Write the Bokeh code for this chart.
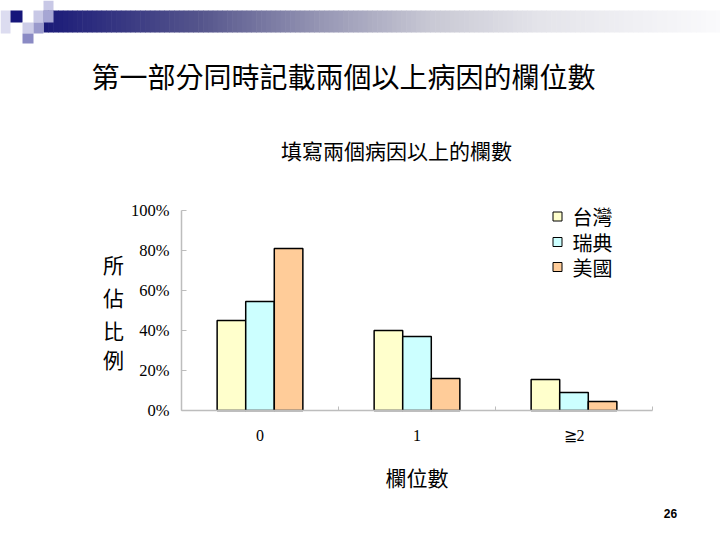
from bokeh.plotting import figure
from bokeh.models import Range1d, FixedTicker, PrintfTickFormatter, Label
from bokeh.embed import file_html
from bokeh.resources import INLINE

# ---------------- data ----------------
slide_title = "第一部分同時記載兩個以上病因的欄位數"
chart_title = "填寫兩個病因以上的欄數"
x_axis_title = "欄位數"
y_axis_title = "所佔比例"
page_number = "26"

categories = ["0", "1", "≧2"]
countries = ["台灣", "瑞典", "美國"]
taiwan = [45, 40, 15.5]
sweden = [54.5, 37, 9]
usa = [81, 16, 4.5]
y_ticks = [0, 20, 40, 60, 80, 100]

# ---------------- styles ----------------
bar_colors = ["#FFFFCC", "#CCFFFF", "#FFCC99"]
serif = "Liberation Serif"
cjk = "Noto Sans CJK TC"
axis_gray = "#bdbdbd"

W, H = 720, 540
# plot area of the chart in page pixels: x 181..652 (3 categories), y 410 (0%) .. 210 (100%)
def dx(px):
    return (px - 181) / 157 - 0.5

def dy(py):
    return (410 - py) / 2

p = figure(width=W, height=H, x_range=Range1d(dx(0), dx(W)), y_range=Range1d(dy(H), dy(0)),
           output_backend="svg", toolbar_location=None, min_border=0)
p.grid.visible = False
p.outline_line_color = None

# ---------------- header decoration (slide template) ----------------
stops_x = [43, 200, 320, 430, 540, 720]
stops_c = [(26, 26, 120), (85, 85, 140), (150, 150, 180), (200, 200, 212), (228, 228, 234), (250, 250, 252)]
n = 140
gl, gr, gc = [], [], []
for i in range(n):
    a = 43 + (720 - 43) * i / n
    b = 43 + (720 - 43) * (i + 1) / n + 0.6
    m = (a + b) / 2
    for s in range(len(stops_x) - 1):
        if stops_x[s] <= m <= stops_x[s + 1]:
            t = (m - stops_x[s]) / (stops_x[s + 1] - stops_x[s])
            c = tuple(int(round(stops_c[s][k] + (stops_c[s + 1][k] - stops_c[s][k]) * t)) for k in range(3))
            break
    gl.append(dx(a)); gr.append(dx(b)); gc.append("#%02x%02x%02x" % c)
p.quad(left=gl, right=gr, top=[dy(10)] * n, bottom=[dy(32)] * n, fill_color=gc, line_color=None)

sq_l = [0, 10, 33, 43, 43, 22, 33, 22]
sq_r = [10, 22, 43, 53, 53, 33, 43, 33]
sq_t = [10, 10, 10, 0, 10, 22, 22, 33]
sq_b = [33, 22, 22, 10, 22, 33, 33, 43]
sq_c = ["#dcdcf0", "#16167a", "#c8c8e6", "#c8c8e6", "#a6a6d4", "#cdcde8", "#9a9acc", "#8a8ac4"]
p.quad(left=[dx(v) for v in sq_l], right=[dx(v) for v in sq_r],
       top=[dy(v) for v in sq_t], bottom=[dy(v) for v in sq_b], fill_color=sq_c, line_color=None)

# ---------------- bars ----------------
offsets = [-0.182, 0.0, 0.182]
bar_w = 0.182
series = [taiwan, sweden, usa]
for i, (vals, col) in enumerate(zip(series, bar_colors)):
    xs = [k + offsets[i] for k in range(len(categories))]
    p.vbar(x=xs, top=vals, width=bar_w, fill_color=col, line_color="black", line_width=1.5)

# ---------------- legend ----------------
leg_rows = [216, 241.5, 266.5]
p.scatter(x=[dx(557)] * 3, y=[dy(r) for r in leg_rows], marker="square", size=9,
          fill_color=bar_colors, line_color="black", line_width=1)
for name, r in zip(countries, leg_rows):
    p.add_layout(Label(x=dx(572), y=dy(r), text=name, text_font=cjk, text_font_size="20px",
                       text_align="left", text_baseline="middle", text_color="black"))

# ---------------- axes ----------------
xa = p.xaxis[0]
xa.fixed_location = 0
xa.bounds = (-0.5, 2.5)
xa.ticker = FixedTicker(ticks=list(range(len(categories))), minor_ticks=[-0.5, 0.5, 1.5, 2.5])
xa.major_label_overrides = {k: c for k, c in enumerate(categories)}
xa.major_tick_in = 0
xa.major_tick_out = 0
xa.minor_tick_in = 4
xa.minor_tick_out = 0
xa.minor_tick_line_color = axis_gray
xa.axis_line_color = axis_gray
xa.axis_line_width = 1.5
xa.major_label_text_font = serif
xa.major_label_text_font_size = "16px"
xa.major_label_text_color = "black"
xa.major_label_standoff = 16
xa.axis_label = x_axis_title
xa.axis_label_text_font = cjk
xa.axis_label_text_font_size = "21px"
xa.axis_label_text_font_style = "normal"
xa.axis_label_text_color = "black"
xa.axis_label_standoff = 15

ya = p.yaxis[0]
ya.fixed_location = -0.5
ya.bounds = (0, 100)
ya.ticker = FixedTicker(ticks=y_ticks, minor_ticks=[])
ya.formatter = PrintfTickFormatter(format="%d%%")
ya.major_tick_in = 5
ya.major_tick_out = 0
ya.major_tick_line_color = axis_gray
ya.axis_line_color = axis_gray
ya.axis_line_width = 1.5
ya.major_label_text_font = serif
ya.major_label_text_font_size = "16.5px"
ya.major_label_text_color = "black"
ya.major_label_standoff = 12

# y axis title, stacked characters
for ch, py in zip(y_axis_title, [263, 296.5, 329.5, 358]):
    p.add_layout(Label(x=dx(113), y=dy(py), text=ch, text_font=cjk, text_font_size="21px",
                       text_align="center", text_baseline="middle", text_color="black"))

# chart title
p.add_layout(Label(x=dx(396), y=dy(149), text=chart_title, text_font=cjk, text_font_size="21px",
                   text_align="center", text_baseline="middle", text_color="black"))

# slide title
p.add_layout(Label(x=dx(91), y=dy(75), text=slide_title, text_font=cjk, text_font_size="28px",
                   text_align="left", text_baseline="middle", text_color="black"))

# page number
p.add_layout(Label(x=dx(670), y=dy(513), text=page_number, text_font="Liberation Sans",
                   text_font_size="12px", text_font_style="bold",
                   text_align="center", text_baseline="middle", text_color="black"))

open("out.html", "w").write(file_html(p, INLINE))
